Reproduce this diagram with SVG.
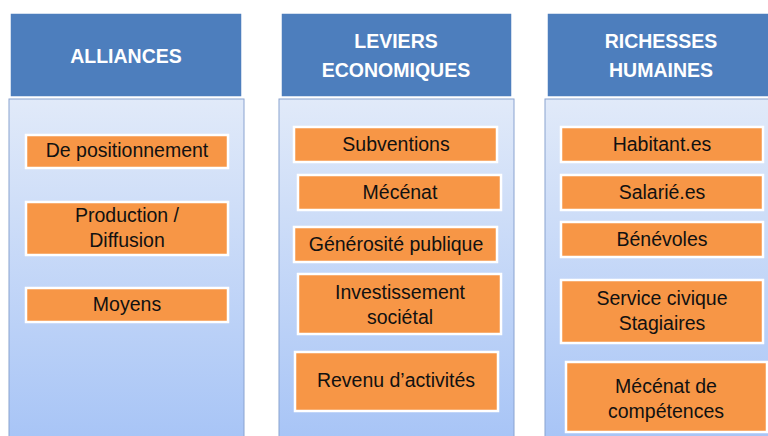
<svg xmlns="http://www.w3.org/2000/svg" width="768" height="436" viewBox="0 0 768 436">
<defs>
<linearGradient id="bodyGrad" x1="0" y1="0" x2="0" y2="1">
<stop offset="0" stop-color="#e1eaf9"/>
<stop offset="1" stop-color="#a7c4f6"/>
</linearGradient>
<style>
.hdr{fill:#4d7ebd;stroke:#ffffff;stroke-width:1.5}
.body{fill:url(#bodyGrad);stroke:#8aa3d0;stroke-width:1}
.box{fill:#f79646;stroke:#ffffff;stroke-width:2.5}
.ht{font-family:"Liberation Sans",Arial,sans-serif;font-weight:bold;font-size:19.5px;fill:#ffffff;text-anchor:middle}
.bt{font-family:"Liberation Sans",Arial,sans-serif;font-size:19.5px;fill:#111111;text-anchor:middle}
</style>
</defs>
<rect width="768" height="436" fill="#ffffff"/>

<g id="col-alliances">
<rect class="body" x="9" y="99" width="235" height="345"/>
<rect class="hdr" x="10" y="13" width="232" height="84"/>
<text class="ht" x="126" y="63">ALLIANCES</text>
</g>
<g id="col-leviers">
<rect class="body" x="279" y="99" width="235" height="345"/>
<rect class="hdr" x="281" y="13" width="231" height="84"/>
<text class="ht" x="396" y="48">LEVIERS</text>
<text class="ht" x="396" y="77">ECONOMIQUES</text>
</g>
<g id="col-richesses">
<rect class="body" x="545" y="99" width="230" height="345"/>
<rect class="hdr" x="547" y="13" width="228" height="84"/>
<text class="ht" x="661" y="48">RICHESSES</text>
<text class="ht" x="661" y="77">HUMAINES</text>
</g>

<g id="n-positionnement">
<rect class="box" x="26" y="135" width="202" height="33"/>
<text class="bt" x="127" y="157">De positionnement</text>
</g>
<g id="n-production">
<rect class="box" x="26" y="202" width="202" height="53"/>
<text class="bt" x="127" y="222">Production /</text>
<text class="bt" x="127" y="247">Diffusion</text>
</g>
<g id="n-moyens">
<rect class="box" x="26" y="288" width="202" height="34"/>
<text class="bt" x="127" y="311">Moyens</text>
</g>

<g id="n-subventions">
<rect class="box" x="294" y="127" width="203" height="35"/>
<text class="bt" x="396" y="151">Subventions</text>
</g>
<g id="n-mecenat">
<rect class="box" x="298" y="175" width="203" height="35"/>
<text class="bt" x="400" y="199">Mécénat</text>
</g>
<g id="n-generosite">
<rect class="box" x="294" y="227" width="203" height="35"/>
<text class="bt" x="396" y="251">Générosité publique</text>
</g>
<g id="n-investissement">
<rect class="box" x="298" y="274" width="203" height="60"/>
<text class="bt" x="400" y="299">Investissement</text>
<text class="bt" x="400" y="324">sociétal</text>
</g>
<g id="n-revenu">
<rect class="box" x="295" y="352" width="203" height="59"/>
<text class="bt" x="396" y="387">Revenu d’activités</text>
</g>

<g id="n-habitants">
<rect class="box" x="561" y="127" width="202" height="35"/>
<text class="bt" x="662" y="151">Habitant.es</text>
</g>
<g id="n-salaries">
<rect class="box" x="561" y="175" width="202" height="35"/>
<text class="bt" x="662" y="199">Salarié.es</text>
</g>
<g id="n-benevoles">
<rect class="box" x="561" y="222" width="202" height="35"/>
<text class="bt" x="662" y="246">Bénévoles</text>
</g>
<g id="n-service">
<rect class="box" x="561" y="280" width="202" height="63"/>
<text class="bt" x="662" y="305">Service civique</text>
<text class="bt" x="662" y="330">Stagiaires</text>
</g>
<g id="n-mecenat-comp">
<rect class="box" x="566" y="362" width="201" height="70"/>
<text class="bt" x="666" y="393">Mécénat de</text>
<text class="bt" x="666" y="418">compétences</text>
</g>

<g id="connectors"></g>
</svg>
